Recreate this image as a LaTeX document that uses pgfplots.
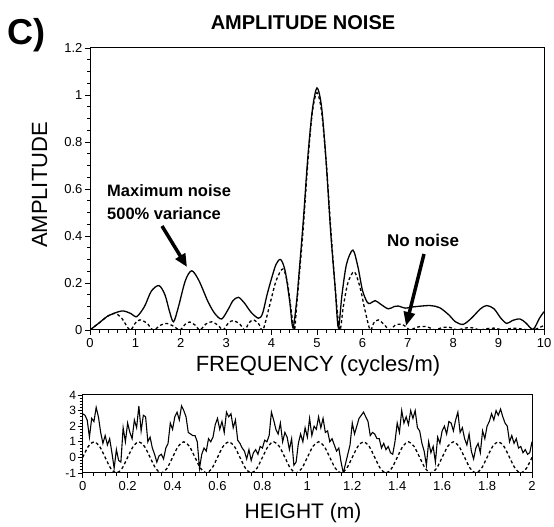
\documentclass[border=0pt]{standalone}
\usepackage{pgfplots}
\pgfplotsset{compat=1.18}
\usepackage{fontspec}
\setmainfont{Liberation Sans}
\usetikzlibrary{arrows.meta}

\pgfplotsset{
  mystyle/.style={
    scale only axis,
    axis line style={line width=1pt},
    tick style={black, line width=0.9pt},
    major tick length=5pt,
    minor tick length=3pt,
    tick align=outside,
    xtick pos=left, ytick pos=left,
    tick label style={font=\fontsize{13}{13}\selectfont},
    /pgf/number format/assume math mode=true,
    clip=true,
  }
}

\begin{document}
\begin{tikzpicture}
\path[use as bounding box] (0pt,0pt) rectangle (554pt,527pt);

% ---------- top: spectrum ----------
\begin{axis}[mystyle,
  at={(90pt,197pt)}, anchor=south west,
  width=454pt, height=282pt,
  xmin=0, xmax=10, ymin=0, ymax=1.2,
  xtick={0,1,...,10},
  ytick={0,0.2,0.4,0.6,0.8,1,1.2},
  yticklabels={0,0.2,0.4,0.6,0.8,1,1.2},
  minor x tick num=4,
  minor y tick num=3,
  xticklabel style={yshift=0pt},
  yticklabel style={xshift=1pt},
]
% maximum noise (500% variance)
\addplot[black, line width=1.3pt, smooth, tension=0.5] coordinates {
(0,0) (0.2,0.03) (0.4,0.06) (0.7,0.081) (0.9,0.07) (1.03,0.057) (1.2,0.1)
(1.35,0.165) (1.52,0.189) (1.65,0.15) (1.75,0.08) (1.84,0.035) (1.95,0.1)
(2.1,0.21) (2.24,0.252) (2.4,0.21) (2.6,0.12) (2.75,0.07) (2.9,0.047)
(3.05,0.09) (3.15,0.125) (3.27,0.139) (3.4,0.115) (3.55,0.075) (3.71,0.05)
(3.8,0.07) (3.9,0.15) (4.0,0.22) (4.1,0.28) (4.2,0.30) (4.3,0.25) (4.4,0.12)
(4.47,0.01) (4.55,0.12) (4.6,0.23) (4.7,0.47) (4.8,0.74) (4.9,0.94) (5.0,1.03)
(5.1,0.95) (5.2,0.72) (5.3,0.42) (5.4,0.18) (5.47,0.01) (5.55,0.15) (5.65,0.28)
(5.79,0.34) (5.9,0.27) (6.0,0.17) (6.1,0.12) (6.17,0.113) (6.28,0.125)
(6.4,0.11) (6.57,0.09) (6.7,0.1) (6.79,0.102) (6.95,0.093) (7.1,0.098)
(7.2,0.1) (7.49,0.104) (7.7,0.095) (7.9,0.065) (8.05,0.035) (8.22,0.024)
(8.4,0.05) (8.6,0.09) (8.74,0.104) (8.9,0.09) (9.05,0.05) (9.18,0.028)
(9.3,0.04) (9.47,0.047) (9.6,0.03) (9.76,0.003) (9.9,0.05) (10,0.078)
};
% no noise
\addplot[black, line width=1.3pt, dash pattern=on 3pt off 2.5pt, smooth, tension=0.5] coordinates {
(0,0) (0.2,0.03) (0.4,0.06) (0.55,0.071) (0.7,0.05) (0.88,0) (1.0,0.03)
(1.1,0.043) (1.25,0.03) (1.39,0) (1.55,0.02) (1.69,0.028) (1.85,0.015)
(1.98,0) (2.1,0.025) (2.2,0.034) (2.32,0.02) (2.42,0) (2.55,0.025)
(2.68,0.035) (2.82,0.02) (2.93,0) (3.05,0.03) (3.16,0.04) (3.3,0.025)
(3.41,0) (3.5,0.03) (3.6,0.043) (3.72,0.025) (3.81,0) (3.95,0.1) (4.1,0.21)
(4.25,0.26) (4.35,0.2) (4.42,0.1) (4.5,0) (4.55,0.1) (4.6,0.21) (4.7,0.44)
(4.8,0.72) (4.9,0.93) (5.0,1.01) (5.1,0.93) (5.2,0.72) (5.3,0.44) (5.4,0.18)
(5.5,0) (5.58,0.1) (5.68,0.2) (5.82,0.248) (5.95,0.18) (6.05,0.09) (6.17,0)
(6.25,0.03) (6.35,0.043) (6.47,0.025) (6.6,0) (6.72,0.02) (6.86,0.025)
(6.97,0.012) (7.05,0) (7.2,0.012) (7.38,0.015) (7.5,0.008) (7.6,0)
(7.75,0.01) (7.9,0.012) (8.0,0.006) (8.1,0) (8.25,0.008) (8.4,0.01)
(8.5,0.005) (8.6,0) (8.75,0.006) (8.9,0.008) (9.0,0.004) (9.1,0)
(9.25,0.006) (9.4,0.007) (9.55,0.003) (9.75,0) (9.9,0.01) (10,0.02)
};
\end{axis}

% ---------- bottom: signal ----------
\begin{axis}[mystyle,
  at={(82.7pt,54pt)}, anchor=south west,
  width=449.3pt, height=78pt,
  xmin=0, xmax=2, ymin=-1, ymax=4,
  xtick={0,0.2,...,2.01},
  xticklabels={0,0.2,0.4,0.6,0.8,1,1.2,1.4,1.6,1.8,2},
  ytick={-1,0,1,2,3,4},
  minor x tick num=3,
  minor y tick num=4,
  yticklabel style={font=\fontsize{12}{9}\selectfont, xshift=2pt},
  xticklabel style={yshift=0pt},
]
\addplot[black, line width=1.1pt] coordinates {
(0.00,2.8) (0.01,2.7) (0.02,2.4) (0.03,1.3) (0.04,2.5) (0.05,2.3) (0.06,3.2) (0.07,2.6) (0.08,1.6) (0.09,0.9)
(0.10,1.4) (0.11,0.8) (0.12,1.2) (0.13,0.3) (0.14,-0.7) (0.15,0.5) (0.16,-0.2) (0.17,-0.3) (0.18,1.9) (0.19,1.0)
(0.20,2.2) (0.21,1.6) (0.22,1.2) (0.23,2.4) (0.24,1.9) (0.25,3.3) (0.26,1.7) (0.27,2.7) (0.28,2.6) (0.29,1.0)
(0.30,1.3) (0.31,0.6) (0.32,0.2) (0.33,-0.3) (0.34,0.1) (0.35,0.2) (0.36,-0.1) (0.37,0.6) (0.38,0.9) (0.39,2.2)
(0.40,1.8) (0.41,2.6) (0.42,2.9) (0.43,2.4) (0.44,3.3) (0.45,3.0) (0.46,2.6) (0.47,1.6) (0.48,1.5) (0.49,1.4)
(0.50,1.4) (0.51,1.0) (0.52,-0.7) (0.53,0.2) (0.54,0.6) (0.55,0.4) (0.56,1.2) (0.57,1.0) (0.58,1.3) (0.59,2.1)
(0.60,2.5) (0.61,1.8) (0.62,2.3) (0.63,1.6) (0.64,2.9) (0.65,2.6) (0.66,2.8) (0.67,1.9) (0.68,2.4) (0.69,1.1)
(0.70,0.9) (0.71,0.6) (0.72,0.4) (0.73,-0.1) (0.74,0.5) (0.75,-0.2) (0.76,0.3) (0.77,0.5) (0.78,0.2) (0.79,0.7)
(0.80,0.6) (0.81,1.1) (0.82,1.0) (0.83,1.4) (0.84,2.9) (0.85,2.4) (0.86,1.8) (0.87,1.5) (0.88,2.2) (0.89,1.0)
(0.90,1.6) (0.91,1.3) (0.92,0.5) (0.93,1.2) (0.94,-0.5) (0.95,-0.3) (0.96,0.9) (0.97,1.5) (0.98,1.0) (0.99,1.9)
(1.00,1.3) (1.01,2.5) (1.02,1.4) (1.03,2.0) (1.04,1.8) (1.05,2.6) (1.06,1.9) (1.07,2.5) (1.08,1.6) (1.09,1.7)
(1.10,1.0) (1.11,1.2) (1.12,0.8) (1.13,0.4) (1.14,0.6) (1.15,-0.3) (1.16,-1.0) (1.17,-0.4) (1.18,0.2) (1.19,0.8)
(1.20,2.2) (1.21,1.5) (1.22,2.0) (1.23,2.5) (1.24,2.7) (1.25,2.9) (1.26,2.6) (1.27,2.3) (1.28,1.4) (1.29,1.6)
(1.30,1.5) (1.31,1.2) (1.32,1.2) (1.33,0.6) (1.34,0.9) (1.35,0.5) (1.36,0.7) (1.37,0.3) (1.38,0.2) (1.39,1.0)
(1.40,2.2) (1.41,1.6) (1.42,3.0) (1.43,2.2) (1.44,2.6) (1.45,2.1) (1.46,3.0) (1.47,2.5) (1.48,3.0) (1.49,1.9)
(1.50,1.7) (1.51,0.9) (1.52,0.4) (1.53,-0.5) (1.54,1.0) (1.55,0.3) (1.56,0.7) (1.57,-0.3) (1.58,1.3) (1.59,0.9)
(1.60,1.7) (1.61,2.0) (1.62,1.5) (1.63,2.3) (1.64,2.2) (1.65,1.7) (1.66,2.4) (1.67,2.9) (1.68,1.6) (1.69,1.9)
(1.70,1.2) (1.71,0.8) (1.72,1.5) (1.73,0.4) (1.74,-0.1) (1.75,0.6) (1.76,0.9) (1.77,0.3) (1.78,1.7) (1.79,1.2)
(1.80,2.0) (1.81,2.3) (1.82,2.8) (1.83,2.4) (1.84,3.0) (1.85,2.7) (1.86,3.1) (1.87,2.6) (1.88,2.2) (1.89,2.0)
(1.90,1.0) (1.91,1.4) (1.92,0.9) (1.93,1.2) (1.94,0.6) (1.95,0.7) (1.96,0.3) (1.97,0.5) (1.98,0.2) (1.99,0.3)
(2.00,1.0)
};
\addplot[black, line width=1.3pt, dash pattern=on 3pt off 2.5pt, smooth] coordinates {
(0.000,0) (0.025,0.707) (0.050,1) (0.075,0.707) (0.100,0) (0.125,-0.707) (0.150,-1) (0.175,-0.707)
(0.200,0) (0.225,0.707) (0.250,1) (0.275,0.707) (0.300,0) (0.325,-0.707) (0.350,-1) (0.375,-0.707)
(0.400,0) (0.425,0.707) (0.450,1) (0.475,0.707) (0.500,0) (0.525,-0.707) (0.550,-1) (0.575,-0.707)
(0.600,0) (0.625,0.707) (0.650,1) (0.675,0.707) (0.700,0) (0.725,-0.707) (0.750,-1) (0.775,-0.707)
(0.800,0) (0.825,0.707) (0.850,1) (0.875,0.707) (0.900,0) (0.925,-0.707) (0.950,-1) (0.975,-0.707)
(1.000,0) (1.025,0.707) (1.050,1) (1.075,0.707) (1.100,0) (1.125,-0.707) (1.150,-1) (1.175,-0.707)
(1.200,0) (1.225,0.707) (1.250,1) (1.275,0.707) (1.300,0) (1.325,-0.707) (1.350,-1) (1.375,-0.707)
(1.400,0) (1.425,0.707) (1.450,1) (1.475,0.707) (1.500,0) (1.525,-0.707) (1.550,-1) (1.575,-0.707)
(1.600,0) (1.625,0.707) (1.650,1) (1.675,0.707) (1.700,0) (1.725,-0.707) (1.750,-1) (1.775,-0.707)
(1.800,0) (1.825,0.707) (1.850,1) (1.875,0.707) (1.900,0) (1.925,-0.707) (1.950,-1) (1.975,-0.707)
(2.000,0)
};
\end{axis}

% ---------- texts ----------
\node[anchor=base west, font=\fontsize{36}{36}\selectfont\bfseries, inner sep=0] at (7pt,482pt) {C)};
\node[anchor=base, font=\fontsize{20}{20}\selectfont\bfseries, inner sep=0] at (303pt,497pt) {AMPLITUDE NOISE};
\node[anchor=base, font=\fontsize{22}{22}\selectfont, inner sep=0] at (318pt,155pt) {FREQUENCY (cycles/m)};
\node[anchor=base, font=\fontsize{22}{22}\selectfont, inner sep=0, rotate=90] at (47pt,342pt) {AMPLITUDE};
\node[anchor=base, font=\fontsize{21}{21}\selectfont, inner sep=0] at (303pt,8pt) {HEIGHT (m)};

\node[anchor=base west, font=\fontsize{16.5}{16.5}\selectfont\bfseries, inner sep=0] at (107pt,330pt) {Maximum noise};
\node[anchor=base west, font=\fontsize{16.5}{16.5}\selectfont\bfseries, inner sep=0] at (107pt,307pt) {500\% variance};
\node[anchor=base west, font=\fontsize{17}{17}\selectfont\bfseries, inner sep=0] at (387pt,280pt) {No noise};

\draw[line width=3.5pt, -{Triangle[length=13pt,width=11pt]}] (162pt,301pt) -- (187pt,260pt);
\draw[line width=3.5pt, -{Triangle[length=14pt,width=11pt]}] (424pt,273pt) -- (406pt,201pt);
\end{tikzpicture}
\end{document}
